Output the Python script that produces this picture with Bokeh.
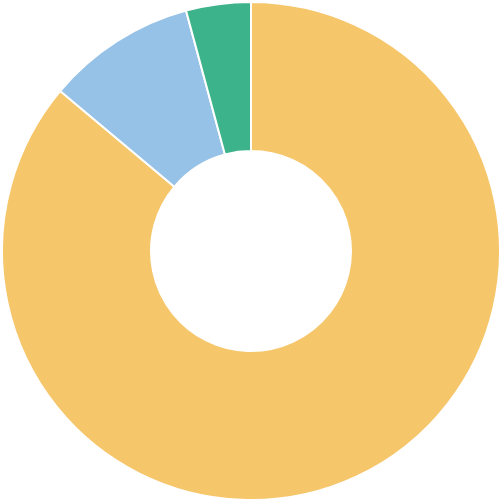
import numpy as np
from bokeh.plotting import figure
from bokeh.models import Range1d, ColumnDataSource
from bokeh.embed import file_html
from bokeh.resources import INLINE

categories = ["A", "B", "C"]
values = [86.1, 9.7, 4.2]
colors = ["#F6C66B", "#97C2E7", "#3DB38B"]

vals = np.array(values, dtype=float)
fracs = vals / vals.sum()
ends = np.cumsum(fracs) * 2 * np.pi
starts = np.concatenate([[0.0], ends[:-1]])
# clockwise from 12 o'clock
start_angle = np.pi / 2 - starts
end_angle = np.pi / 2 - ends

src = ColumnDataSource(dict(cat=categories, val=values, color=colors,
                            start=start_angle, end=end_angle,
                            x=[0] * len(values), y=[0] * len(values)))

p = figure(width=501, height=501, output_backend="svg", toolbar_location=None,
           x_range=Range1d(-250.5, 250.5), y_range=Range1d(-250.5, 250.5),
           min_border=0, min_border_left=0, min_border_right=0,
           min_border_top=0, min_border_bottom=0)
p.axis.visible = False
p.grid.visible = False
p.outline_line_color = None
p.background_fill_color = "white"
p.border_fill_color = "white"

p.annular_wedge(x="x", y="y", inner_radius=100, outer_radius=249,
                start_angle="start", end_angle="end", direction="clock",
                fill_color="color", line_color="white", line_width=2,
                source=src)

open("out.html", "w").write(file_html(p, INLINE))
